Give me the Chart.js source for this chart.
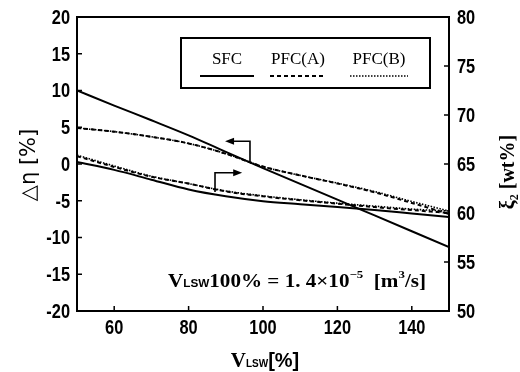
<!DOCTYPE html>
<html><head><meta charset="utf-8">
<script src="https://cdn.jsdelivr.net/npm/chart.js@4/dist/chart.umd.min.js"></script>
<style>html,body{margin:0;padding:0;background:#fff}#wrap{width:520px;height:372px}</style>
</head><body><div id="wrap"><canvas id="c" width="520" height="372"></canvas></div>
<script>
// ---- data ----
const vlsw    = [50, 60, 70, 80, 90, 100, 110, 120, 130, 140, 150];
// Δη [%] (left axis)
const etaSFC  = [10.0, 7.95, 5.95, 3.9, 1.65, -0.55, -2.7, -4.85, -7.0, -9.15, -11.3];
const etaPFCA = [4.9, 4.4, 3.7, 2.8, 1.4, -0.35, -1.55, -2.65, -3.85, -5.3, -6.8];
const etaPFCB = [4.9, 4.4, 3.7, 2.8, 1.4, -0.35, -1.55, -2.6, -3.75, -5.1, -6.4];
// ξ2 [wt%] (right axis)
const xiSFC   = [65.2, 64.4, 63.4, 62.4, 61.7, 61.2, 60.9, 60.6, 60.3, 59.95, 59.6];
const xiPFCA  = [65.8, 64.7, 63.7, 63.0, 62.2, 61.7, 61.3, 60.95, 60.6, 60.3, 60.0];
const xiPFCB  = [65.9, 64.8, 63.75, 63.0, 62.25, 61.75, 61.35, 61.0, 60.7, 60.4, 60.2];
const xTicks     = [60, 80, 100, 120, 140];
const leftTicks  = [-20, -15, -10, -5, 0, 5, 10, 15, 20];
const rightTicks = [50, 55, 60, 65, 70, 75, 80];
const seriesNames = ['SFC', 'PFC(A)', 'PFC(B)'];
// ---------------------------------

const pts = arr => arr.map((v, i) => ({x: vlsw[i], y: v}));
const styles = [
  {borderDash: [], borderWidth: 2},
  {borderDash: [4, 3], borderWidth: 2},
  {borderDash: [1.5, 1.5], borderWidth: 1.6}
];
const mk = (label, arr, axis, s) => ({
  label, data: pts(arr), yAxisID: axis, borderColor: '#000', backgroundColor: '#000',
  borderWidth: styles[s].borderWidth, borderDash: styles[s].borderDash,
  pointRadius: 0, fill: false, tension: 0.4, cubicInterpolationMode: 'monotone'
});

const tickFontCss = 'bold 21px "Liberation Sans","DejaVu Sans",sans-serif';
const squeeze = 0.78;

function drawArrowHead(ctx, x, y, dir) {
  ctx.beginPath();
  ctx.moveTo(x, y);
  ctx.lineTo(x - dir * 9, y - 3.5);
  ctx.lineTo(x - dir * 9, y + 3.5);
  ctx.closePath();
  ctx.fill();
}
function narrowText(ctx, t, x, y, align, base) {
  ctx.save();
  ctx.translate(x, y);
  ctx.scale(squeeze, 1);
  ctx.textAlign = align; ctx.textBaseline = base;
  ctx.fillText(t, 0, 0);
  ctx.restore();
}

const decor = {
  id: 'decor',
  afterDraw(chart) {
    const {ctx, chartArea: a, scales} = chart;
    const sx = scales.x, yl = scales.yL, yr = scales.yR;
    ctx.save();
    ctx.strokeStyle = '#000'; ctx.fillStyle = '#000';
    // frame
    ctx.lineWidth = 2;
    ctx.setLineDash([]);
    ctx.strokeRect(a.left, a.top, a.right - a.left, a.bottom - a.top);
    // inward ticks
    ctx.lineWidth = 1.5;
    ctx.beginPath();
    xTicks.forEach(v => { const p = sx.getPixelForValue(v); ctx.moveTo(p, a.bottom); ctx.lineTo(p, a.bottom - 5); });
    leftTicks.slice(1, -1).forEach(v => { const p = yl.getPixelForValue(v); ctx.moveTo(a.left, p); ctx.lineTo(a.left + 5, p); });
    rightTicks.slice(1, -1).forEach(v => { const p = yr.getPixelForValue(v); ctx.moveTo(a.right, p); ctx.lineTo(a.right - 5, p); });
    ctx.stroke();

    // tick labels (condensed bold)
    ctx.font = tickFontCss;
    xTicks.forEach(v => narrowText(ctx, String(v), sx.getPixelForValue(v), a.bottom + 17, 'center', 'middle'));
    leftTicks.forEach(v => narrowText(ctx, String(v), a.left - 7, yl.getPixelForValue(v) + 1, 'right', 'middle'));
    rightTicks.forEach(v => narrowText(ctx, String(v), a.right + 8, yr.getPixelForValue(v) + 1, 'left', 'middle'));

    // legend box
    const bx = a.left + 104, by = a.top + 21, bw = 249, bh = 50;
    ctx.lineWidth = 2;
    ctx.strokeRect(bx, by, bw, bh);
    const cx = [bx + 46, bx + 117, bx + 198];
    const half = [27, 28, 29];
    ctx.font = '17px "Liberation Serif","DejaVu Serif",serif';
    ctx.textAlign = 'center'; ctx.textBaseline = 'middle';
    seriesNames.forEach((n, i) => {
      ctx.fillText(n, cx[i], by + 22);
      ctx.lineWidth = styles[i].borderWidth;
      ctx.setLineDash(styles[i].borderDash);
      ctx.beginPath();
      ctx.moveTo(cx[i] - half[i], by + 38);
      ctx.lineTo(cx[i] + half[i], by + 38);
      ctx.stroke();
    });
    ctx.setLineDash([]);

    // arrows
    ctx.lineWidth = 1.6;
    // Δη curves -> left axis
    let x0 = sx.getPixelForValue(96.5), y0 = yl.getPixelForValue(0.3), y1 = yl.getPixelForValue(3.1), x1 = sx.getPixelForValue(89.8);
    ctx.beginPath(); ctx.moveTo(x0, y0); ctx.lineTo(x0, y1); ctx.lineTo(x1 + 6, y1); ctx.stroke();
    drawArrowHead(ctx, x1, y1, -1);
    // ξ2 curves -> right axis
    x0 = sx.getPixelForValue(87.1); y0 = yr.getPixelForValue(62.15); y1 = yr.getPixelForValue(64.1); x1 = sx.getPixelForValue(94.4);
    ctx.beginPath(); ctx.moveTo(x0, y0); ctx.lineTo(x0, y1); ctx.lineTo(x1 - 6, y1); ctx.stroke();
    drawArrowHead(ctx, x1, y1, 1);

    // annotation text
    const big = 'bold 18px "Liberation Serif","DejaVu Serif",serif';
    const small = 'bold 10px "Liberation Sans","DejaVu Sans",sans-serif';
    const sup = 'bold 11px "Liberation Serif","DejaVu Serif",serif';
    const segs = [
      {t: 'V', f: big, dy: 0},
      {t: 'LSW', f: small, dy: 0},
      {t: '100% = 1. 4×10', f: big, dy: 0},
      {t: '−5', f: sup, dy: -9},
      {t: '  [m', f: big, dy: 0},
      {t: '3', f: sup, dy: -9},
      {t: '/s]', f: big, dy: 0}
    ];
    ctx.textAlign = 'left'; ctx.textBaseline = 'alphabetic';
    let tw = 0;
    segs.forEach(s => { ctx.font = s.f; s.w = ctx.measureText(s.t).width; tw += s.w; });
    const ax = a.left + 91, ay = a.top + 270, target = 258;
    ctx.save();
    ctx.translate(ax, ay);
    ctx.scale(target / tw, 1);
    let cxp = 0;
    segs.forEach(s => { ctx.font = s.f; ctx.fillText(s.t, cxp, s.dy); cxp += s.w; });
    ctx.restore();

    // x title
    const xt = [
      {t: 'V', f: 'bold 21px "Liberation Serif","DejaVu Serif",serif'},
      {t: 'LSW', f: 'bold 10px "Liberation Sans","DejaVu Sans",sans-serif'},
      {t: '[%]', f: 'bold 20px "Liberation Sans","DejaVu Sans",sans-serif'}
    ];
    let xw = 0;
    xt.forEach(s => { ctx.font = s.f; s.w = ctx.measureText(s.t).width; xw += s.w; });
    let xp = (a.left + a.right) / 2 - xw / 2 + 2;
    xt.forEach(s => { ctx.font = s.f; ctx.fillText(s.t, xp, 367); xp += s.w; });

    // left title
    ctx.save();
    ctx.translate(35, 165);
    ctx.rotate(-Math.PI / 2);
    ctx.textAlign = 'center';
    ctx.font = '21px "DejaVu Sans","Liberation Serif",serif';
    ctx.fillText('△η [%]', 0, 0);
    ctx.restore();

    // right title
    ctx.save();
    ctx.translate(514, 172);
    ctx.rotate(-Math.PI / 2);
    ctx.textAlign = 'center';
    ctx.font = 'bold 20px "Liberation Serif","DejaVu Serif",serif';
    ctx.fillText('ξ₂ [wt%]', 0, 0);
    ctx.restore();

    ctx.restore();
  }
};

const noLines = {display: false, drawTicks: false};
const hiddenTicks = {display: false};
new Chart(document.getElementById('c'), {
  type: 'line',
  data: {datasets: [
    mk('SFC Δη', etaSFC, 'yL', 0),
    mk('PFC(A) Δη', etaPFCA, 'yL', 1),
    mk('PFC(B) Δη', etaPFCB, 'yL', 2),
    mk('SFC ξ2', xiSFC, 'yR', 0),
    mk('PFC(A) ξ2', xiPFCA, 'yR', 1),
    mk('PFC(B) ξ2', xiPFCB, 'yR', 2)
  ]},
  options: {
    responsive: false, animation: false,
    layout: {padding: {top: 17, left: 0, right: 0, bottom: 0}},
    plugins: {legend: {display: false}, tooltip: {enabled: false}},
    scales: {
      x: {type: 'linear', position: 'bottom', min: 50, max: 150,
          afterBuildTicks: s => { s.ticks = xTicks.map(v => ({value: v})); },
          afterFit: s => { s.height = 61; },
          grid: noLines, border: {display: false}, ticks: hiddenTicks},
      yL: {type: 'linear', position: 'left', min: -20, max: 20,
          afterBuildTicks: s => { s.ticks = leftTicks.map(v => ({value: v})); },
          afterFit: s => { s.width = 77; },
          grid: noLines, border: {display: false}, ticks: hiddenTicks},
      yR: {type: 'linear', position: 'right', min: 50, max: 80,
          afterBuildTicks: s => { s.ticks = rightTicks.map(v => ({value: v})); },
          afterFit: s => { s.width = 71; },
          grid: noLines, border: {display: false}, ticks: hiddenTicks}
    }
  },
  plugins: [decor]
});
</script></body></html>
